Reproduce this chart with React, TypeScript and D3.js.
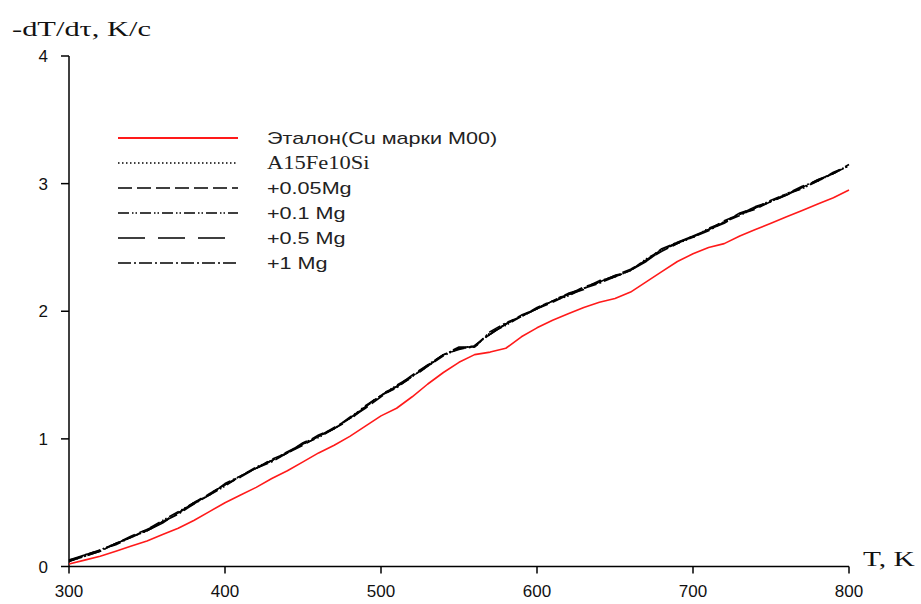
import React from "react";
import * as d3 from "d3";

const temps: number[] = d3.range(300, 801, 10);

const etalon = [0.02,0.05,0.08,0.12,0.16,0.20,0.25,0.30,0.36,0.43,0.50,0.56,0.62,0.69,0.75,0.82,0.89,0.95,1.02,1.10,1.18,1.24,1.33,1.43,1.52,1.60,1.66,1.68,1.71,1.80,1.87,1.93,1.98,2.03,2.07,2.10,2.15,2.23,2.31,2.39,2.45,2.50,2.53,2.59,2.64,2.69,2.74,2.79,2.84,2.89,2.95];
const a15fe10si = [0.04,0.08,0.13,0.18,0.23,0.28,0.35,0.42,0.50,0.56,0.64,0.71,0.77,0.83,0.89,0.96,1.02,1.08,1.16,1.25,1.34,1.41,1.49,1.57,1.66,1.71,1.72,1.83,1.90,1.96,2.02,2.08,2.13,2.18,2.23,2.27,2.32,2.40,2.48,2.54,2.58,2.64,2.70,2.76,2.81,2.86,2.92,2.97,3.02,3.08,3.14];
const mg005 = [0.05,0.08,0.12,0.18,0.24,0.29,0.35,0.42,0.49,0.57,0.64,0.70,0.77,0.84,0.89,0.95,1.02,1.09,1.16,1.24,1.33,1.41,1.50,1.58,1.66,1.70,1.73,1.82,1.90,1.97,2.02,2.07,2.13,2.19,2.23,2.28,2.33,2.40,2.47,2.53,2.59,2.64,2.71,2.76,2.80,2.86,2.91,2.97,3.03,3.08,3.15];
const mg01 = [0.04,0.09,0.13,0.17,0.23,0.29,0.36,0.43,0.50,0.56,0.63,0.71,0.78,0.83,0.90,0.96,1.01,1.08,1.17,1.25,1.34,1.42,1.49,1.57,1.65,1.71,1.73,1.83,1.89,1.96,2.03,2.08,2.12,2.18,2.24,2.27,2.32,2.41,2.48,2.53,2.58,2.65,2.70,2.75,2.81,2.87,2.92,2.96,3.02,3.09,3.14];
const mg05 = [0.05,0.09,0.13,0.18,0.23,0.28,0.34,0.42,0.50,0.57,0.64,0.71,0.77,0.83,0.89,0.97,1.02,1.08,1.15,1.25,1.35,1.41,1.48,1.57,1.66,1.72,1.72,1.82,1.90,1.96,2.02,2.09,2.13,2.17,2.23,2.28,2.32,2.39,2.48,2.54,2.59,2.64,2.69,2.76,2.82,2.86,2.91,2.97,3.03,3.08,3.13];
const mg1 = [0.04,0.08,0.12,0.18,0.23,0.28,0.35,0.41,0.49,0.56,0.65,0.71,0.77,0.82,0.89,0.96,1.03,1.08,1.16,1.26,1.34,1.40,1.49,1.58,1.66,1.71,1.72,1.84,1.91,1.96,2.02,2.08,2.14,2.18,2.22,2.27,2.32,2.40,2.49,2.54,2.58,2.63,2.70,2.77,2.81,2.86,2.92,2.98,3.02,3.08,3.14];

const seriesNames = ["Эталон(Cu марки M00)", "A15Fe10Si", "+0.05Mg", "+0.1 Mg", "+0.5 Mg", "+1 Mg"];
const seriesValues = [etalon, a15fe10si, mg005, mg01, mg05, mg1];
const seriesColors = ["#ff1a1a", "#000", "#000", "#000", "#000", "#000"];
const seriesDash = ["none", "1.5,2.5", "14,5", "11,3,1.5,2,1.5,3", "27,13", "13,3,2,3"];
const seriesSerif = [false, true, false, false, false, false];

const xTicks = [300, 400, 500, 600, 700, 800];
const yTicks = [0, 1, 2, 3, 4];

export default function App() {
  const W = 921, H = 604;
  const x = d3.scaleLinear().domain([300, 800]).range([69, 849]);
  const y = d3.scaleLinear().domain([0, 4]).range([566.5, 56]);
  const line = d3.line<[number, number]>().x(d => x(d[0])).y(d => y(d[1]));

  const order = [1, 2, 3, 4, 5, 0];
  const sans = "'Liberation Sans', Arial, sans-serif";
  const serif = "'Liberation Serif', 'Times New Roman', serif";

  return (
    <svg width={W} height={H} style={{ position: "absolute", left: 0, top: 0, background: "#fff" }}>
      <rect width={W} height={H} fill="#fff" />
      {/* axes */}
      <line x1={x(300)} x2={x(800)} y1={y(0)} y2={y(0)} stroke="#000" strokeWidth={1.5} />
      <line x1={x(300)} x2={x(300)} y1={y(0)} y2={y(4)} stroke="#000" strokeWidth={1.5} />
      {xTicks.map(t => (
        <g key={"xt" + t}>
          <line x1={x(t)} x2={x(t)} y1={y(0)} y2={y(0) + 7} stroke="#000" strokeWidth={1.5} />
          <text x={x(t)} y={597} textAnchor="middle" fontFamily={sans} fontSize={17} fill="#111">{t}</text>
        </g>
      ))}
      {yTicks.map(t => (
        <g key={"yt" + t}>
          <line x1={x(300) - 8} x2={x(300)} y1={y(t)} y2={y(t)} stroke="#000" strokeWidth={1.5} />
          <text x={48} y={y(t) + 6} textAnchor="end" fontFamily={sans} fontSize={17} fill="#111">{t}</text>
        </g>
      ))}
      <text transform="translate(12,36) scale(1.45,1)" fontFamily={serif} fontSize={21} fill="#111">-dT/dτ, K/c</text>
      <text transform="translate(863,566) scale(1.4,1)" fontFamily={serif} fontSize={21} fill="#111">T, K</text>

      {/* series */}
      {order.map(i => (
        <path key={"s" + i}
          d={line(temps.map((t, k) => [t, seriesValues[i][k]] as [number, number])) || ""}
          fill="none" stroke={seriesColors[i]} strokeWidth={i === 0 ? 1.6 : 1.6}
          strokeDasharray={seriesDash[i]} strokeLinejoin="round" />
      ))}

      {/* legend */}
      {seriesNames.map((name, i) => {
        const ly = 138 + i * 25;
        return (
          <g key={"lg" + i}>
            <line x1={118} x2={238} y1={ly} y2={ly} stroke={seriesColors[i]} strokeWidth={i === 0 ? 2 : 1.5} strokeDasharray={seriesDash[i]} />
            <text transform={`translate(267,${ly + 6}) scale(${seriesSerif[i] ? 1.25 : 1.35},1)`}
              fontFamily={seriesSerif[i] ? serif : sans} fontSize={seriesSerif[i] ? 18 : 16} fill="#222">{name}</text>
          </g>
        );
      })}
    </svg>
  );
}
